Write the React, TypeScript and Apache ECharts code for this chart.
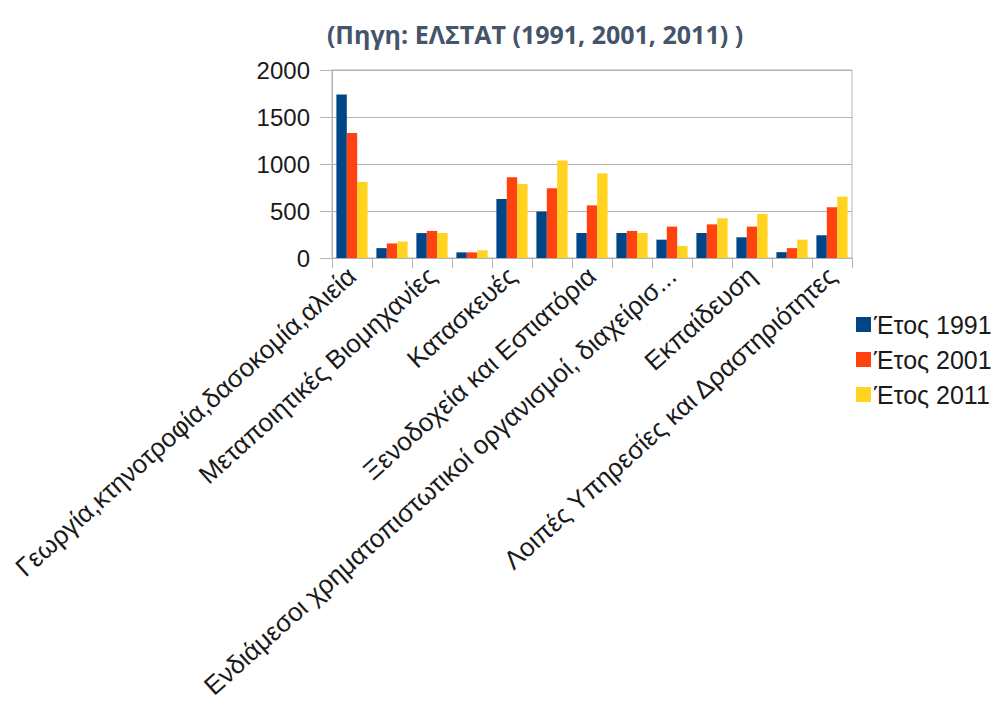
import React, { useEffect, useRef } from "react";
import * as echarts from "echarts";

const categories = [
  "Γεωργία,κτηνοτροφία,δασοκομία,αλιεία",
  "Ορυχεία και Λατομεία",
  "Μεταποιητικές Βιομηχανίες",
  "Παροχή Ηλεκτρικού Ρεύματος, Φυσικού Αερίου και Νερού",
  "Κατασκευές",
  "Χονδρικό και Λιανικό Εμπόριο",
  "Ξενοδοχεία και Εστιατόρια",
  "Μεταφορές, Αποθήκευση και Επικοινωνίες",
  "Ενδιάμεσοι χρηματοπιστωτικοί οργανισμοί, διαχείρισ...",
  "Δημόσια Διοίκηση και Άμυνα",
  "Εκπαίδευση",
  "Υγεία και Κοινωνική Μέριμνα",
  "Λοιπές Υπηρεσίες και Δραστηριότητες",
];

const seriesNames = ["Έτος 1991", "Έτος 2001", "Έτος 2011"];
const values1991 = [1740, 105, 265, 60, 628, 494, 266, 266, 195, 266, 220, 62, 242];
const values2001 = [1330, 155, 288, 60, 858, 742, 560, 288, 334, 358, 334, 105, 540];
const values2011 = [810, 175, 266, 82, 788, 1036, 900, 266, 128, 422, 468, 195, 652];
const yTicks = { min: 0, max: 2000, interval: 500 };

const colors = ["#004586", "#ff420e", "#ffd320"];
const FONT = "Liberation Sans";

export default function App() {
  const ref = useRef<HTMLDivElement>(null);
  useEffect(() => {
    document.body.style.margin = "0";
    const chart = echarts.init(ref.current!, null, { renderer: "svg" });
    const data = [values1991, values2001, values2011];
    chart.setOption({
      animation: false,
      backgroundColor: "#ffffff",
      color: colors,
      title: {
        text: "(Πηγη: ΕΛΣΤΑΤ (1991, 2001, 2011) )",
        left: 530,
        top: 16,
        textAlign: "center",
        textStyle: {
          fontFamily: "Open Sans",
          fontWeight: "bold",
          fontSize: 25,
          color: "#44546a",
        },
      },
      legend: {
        orient: "vertical",
        left: 851,
        top: 307,
        itemWidth: 15,
        itemHeight: 15,
        itemGap: 10,
        icon: "rect",
        textStyle: { fontFamily: FONT, fontSize: 25, color: "#1a1a1a", padding: [0, 0, 0, -2] },
        data: seriesNames,
      },
      grid: {
        left: 332,
        right: 150,
        top: 70,
        bottom: 455,
        show: true,
        borderColor: "#b3b3b3",
        borderWidth: 1,
        containLabel: false,
      },
      xAxis: {
        type: "category",
        data: categories,
        axisLine: { show: true, lineStyle: { color: "#b3b3b3", width: 1 } },
        axisTick: { show: true, interval: 0, length: 10, lineStyle: { color: "#b3b3b3" } },
        axisLabel: {
          interval: 1,
          rotate: 42,
          margin: 14,
          fontFamily: FONT,
          fontSize: 26,
          color: "#1a1a1a",
        },
      },
      yAxis: {
        type: "value",
        min: yTicks.min,
        max: yTicks.max,
        interval: yTicks.interval,
        axisLine: { show: true, lineStyle: { color: "#b3b3b3" } },
        axisTick: { show: true, length: 12, lineStyle: { color: "#b3b3b3" } },
        splitLine: { show: true, lineStyle: { color: "#b3b3b3", width: 1 } },
        axisLabel: {
          fontFamily: FONT,
          fontSize: 24,
          color: "#1a1a1a",
          margin: 22,
          formatter: (v: number) => String(v),
        },
      },
      series: seriesNames.map((name, i) => ({
        name,
        type: "bar",
        data: data[i],
        barGap: "0%",
        barCategoryGap: "22%",
        itemStyle: { color: colors[i] },
      })),
    });
    return () => chart.dispose();
  }, []);
  return <div ref={ref} style={{ width: 1002, height: 713 }} />;
}
